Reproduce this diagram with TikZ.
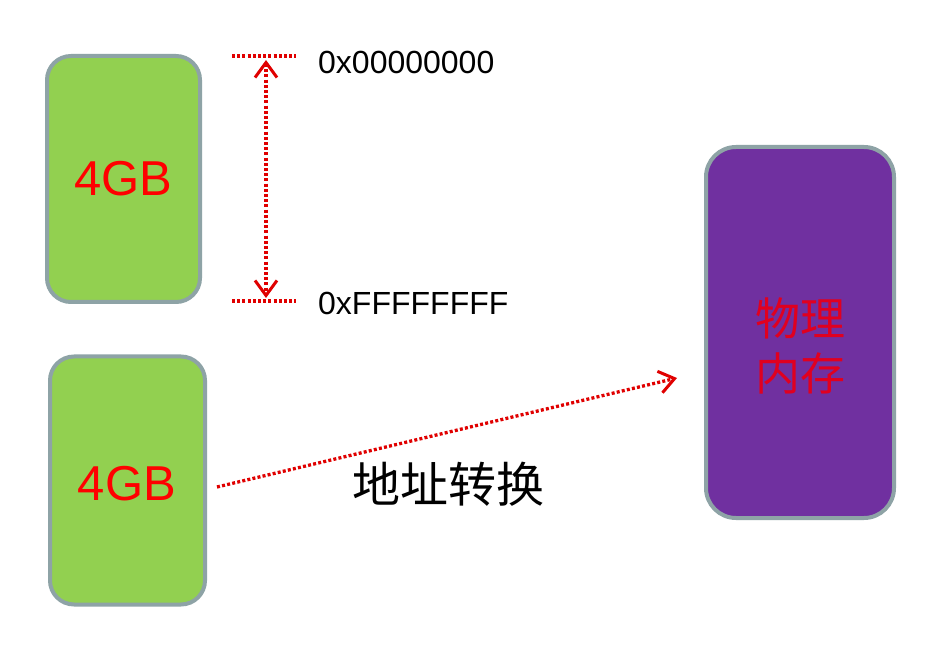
\documentclass[tikz,border=0pt]{standalone}
\usepackage{fontspec}
\setmainfont{Liberation Sans}
\newfontfamily\cjk{Noto Sans CJK SC}
\usetikzlibrary{arrows.meta}
\definecolor{boxgreen}{HTML}{92D050}
\definecolor{boxpurple}{HTML}{7030A0}
\definecolor{boxedge}{HTML}{8EA3A6}
\definecolor{dotred}{HTML}{E00000}
\tikzset{
  membox/.style={draw=boxedge, line width=4pt, rounded corners=24pt, inner sep=0pt},
  dotline/.style={dotred, line width=3.3pt, dash pattern=on 3pt off 2.2pt},
  barb/.tip={Straight Barb[length=15pt,width=22pt,line width=3pt]},
}
\begin{document}
\begin{tikzpicture}[x=1pt,y=-1pt]
\useasboundingbox (0,0) rectangle (930,652);
\fill[white] (0,0) rectangle (930,652);
% boxes
\node[membox, fill=boxgreen, minimum width=153pt, minimum height=246pt] (va1) at (123.5,179) {};
\node[membox, fill=boxgreen, minimum width=155pt, minimum height=248pt] (va2) at (127.5,480.5) {};
\node[membox, fill=boxpurple, minimum width=188pt, minimum height=371pt, rounded corners=30pt] (pm) at (800,332.5) {};
% labels
\node[text=red, font=\fontsize{49pt}{49pt}\selectfont] (l1) at (va1.center) {4GB};
\node[text=red, font=\fontsize{49pt}{49pt}\selectfont] (l2) at (127,484) {4GB};
\node[text={rgb,255:red,224;green,0;blue,32}, font=\cjk\fontsize{45pt}{55pt}\selectfont, align=center] (l3) at (800,346) {物理\\内存};
% address range
\coordinate (t1) at (232,56);
\coordinate (t2) at (296,56);
\coordinate (b1) at (232,301);
\coordinate (b2) at (296,301);
\draw[dotline] (t1) -- (t2);
\draw[dotline] (b1) -- (b2);
\coordinate (ta) at (266,60);
\coordinate (ba) at (266,298);
\draw[dotline, barb-barb] (ta) -- (ba);
\node[anchor=west, font=\fontsize{32pt}{32pt}\selectfont, inner sep=0pt] (a0) at (318,62) {0x00000000};
\node[anchor=west, font=\fontsize{32pt}{32pt}\selectfont, inner sep=0pt] (af) at (318,303) {0xFFFFFFFF};
% translation arrow
\coordinate (s) at (217,487);
\coordinate (e) at (677,378);
\draw[dotline, -barb] (s) -- (e);
\node[font=\cjk\fontsize{48pt}{48pt}\selectfont] (tr) at (448,484) {地址转换};
\end{tikzpicture}
\end{document}
